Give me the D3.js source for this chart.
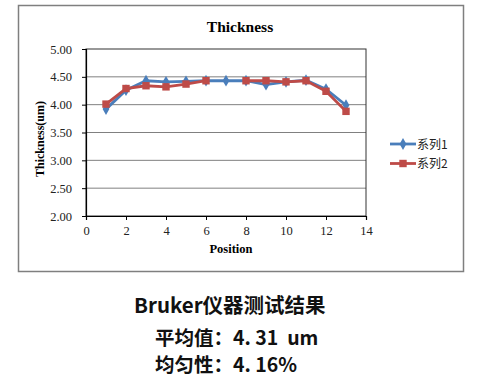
<!DOCTYPE html>
<html>
<head>
<meta charset="utf-8">
<script src="https://cdn.jsdelivr.net/npm/d3@7"></script>
<style>
  body { margin: 0; background: #fff; }
</style>
</head>
<body>
<div id="chart"></div>
<script>
// positions along the wafer
const positions = [1, 2, 3, 4, 5, 6, 7, 8, 9, 10, 11, 12, 13];
// thickness values (um)
const series1 = [3.92, 4.26, 4.43, 4.41, 4.42, 4.43, 4.43, 4.43, 4.36, 4.41, 4.44, 4.28, 3.99];
const series2 = [4.01, 4.29, 4.34, 4.32, 4.37, 4.43, null, 4.43, 4.43, 4.41, 4.43, 4.24, 3.88];
const seriesNames = ["系列1", "系列2"];
const xTicks = [0, 2, 4, 6, 8, 10, 12, 14];
const yTicks = [2.0, 2.5, 3.0, 3.5, 4.0, 4.5, 5.0];
const summaryLines = ["Bruker仪器测试结果", "平均值：4. 31  um", "均匀性：4. 16%"];

const width = 477, height = 386;
const plot = {left: 86, right: 366, top: 49, bottom: 216};
const colors = ["#4a7ebb", "#be4b48"];
const serif = "'Liberation Serif', 'Times New Roman', serif";

const svg = d3.create("svg")
  .attr("width", width)
  .attr("height", height);

// outer chart frame
svg.append("rect")
  .attr("x", 18.5).attr("y", 5.5)
  .attr("width", 445).attr("height", 266)
  .attr("fill", "#fff")
  .attr("stroke", "#7f7f7f")
  .attr("stroke-width", 1.5);

const x = d3.scaleLinear().domain([0, 14]).range([plot.left, plot.right]);
const y = d3.scaleLinear().domain([2, 5]).range([plot.bottom, plot.top]);

// gridlines
svg.append("g")
  .selectAll("line")
  .data(yTicks.slice(1, -1))
  .join("line")
  .attr("x1", plot.left).attr("x2", plot.right)
  .attr("y1", d => y(d)).attr("y2", d => y(d))
  .attr("stroke", "#808080")
  .attr("stroke-width", 1);

// plot frame
svg.append("rect")
  .attr("x", plot.left).attr("y", plot.top)
  .attr("width", plot.right - plot.left).attr("height", plot.bottom - plot.top)
  .attr("fill", "none")
  .attr("stroke", "#333")
  .attr("stroke-width", 1);

// axes
const xAxis = svg.append("g")
  .attr("transform", `translate(0, ${plot.bottom})`)
  .call(d3.axisBottom(x).tickValues(xTicks).tickSize(4).tickPadding(6).tickFormat(d3.format("d")));
const yAxis = svg.append("g")
  .attr("transform", `translate(${plot.left}, 0)`)
  .call(d3.axisLeft(y).tickValues(yTicks).tickSize(4).tickPadding(10).tickFormat(d3.format(".2f")));

[xAxis, yAxis].forEach(a => {
  a.attr("font-family", serif);
  a.select(".domain").attr("stroke", "#000").attr("stroke-width", 1.2);
  a.selectAll(".tick line").attr("stroke", "#000");
  a.selectAll("text")
    .attr("font-family", serif)
    .attr("font-size", 12.5)
    .attr("fill", "#222");
});

// titles
svg.append("text")
  .attr("x", 240).attr("y", 32)
  .attr("text-anchor", "middle")
  .attr("font-family", serif)
  .attr("font-weight", "bold")
  .attr("font-size", 15.5)
  .text("Thickness");

svg.append("text")
  .attr("x", 231).attr("y", 253)
  .attr("text-anchor", "middle")
  .attr("font-family", serif)
  .attr("font-weight", "bold")
  .attr("font-size", 12.5)
  .text("Position");

svg.append("text")
  .attr("transform", "translate(44, 139) rotate(-90)")
  .attr("text-anchor", "middle")
  .attr("font-family", serif)
  .attr("font-weight", "bold")
  .attr("font-size", 12)
  .text("Thickness(um)");

// lines and markers
const line = d3.line()
  .defined(d => d[1] != null)
  .x(d => x(d[0]))
  .y(d => y(d[1]));

const allSeries = [series1, series2].map(s => positions.map((p, i) => [p, s[i]]));
const diamond = d3.symbol().type(d3.symbolDiamond).size(40);
const square = d3.symbol().type(d3.symbolSquare).size(55);

allSeries.forEach((s, k) => {
  svg.append("path")
    .datum(s)
    .attr("d", line)
    .attr("fill", "none")
    .attr("stroke", colors[k])
    .attr("stroke-width", 2.8);

  svg.append("g")
    .selectAll("path")
    .data(s.filter(d => d[1] != null))
    .join("path")
    .attr("transform", d => `translate(${x(d[0])}, ${y(d[1])})`)
    .attr("d", k === 0 ? diamond : square)
    .attr("fill", colors[k]);
});

// legend
const legend = svg.append("g");
seriesNames.forEach((name, k) => {
  const ly = 144 + k * 19.5;
  legend.append("line")
    .attr("x1", 390).attr("x2", 416)
    .attr("y1", ly).attr("y2", ly)
    .attr("stroke", colors[k])
    .attr("stroke-width", 2.8);
  legend.append("path")
    .attr("transform", `translate(403, ${ly})`)
    .attr("d", k === 0 ? diamond : square)
    .attr("fill", colors[k]);
  legend.append("text")
    .attr("x", 417).attr("y", ly + 4.5)
    .attr("font-family", "'Noto Sans CJK SC', sans-serif")
    .attr("font-size", 12)
    .attr("fill", "#222")
    .text(name);
});

// summary text below the chart
const summary = [
  {x: 134, y: 313, size: 20.5},
  {x: 155, y: 345, size: 19.5},
  {x: 155, y: 372, size: 19.5}
];
summaryLines.forEach((t, i) => {
  svg.append("text")
    .attr("x", summary[i].x).attr("y", summary[i].y)
    .attr("font-family", "'Noto Sans CJK SC', sans-serif")
    .attr("font-weight", "bold")
    .attr("font-size", summary[i].size)
    .attr("fill", "#111")
    .style("white-space", "pre")
    .text(t);
});

document.getElementById("chart").appendChild(svg.node());
</script>
</body>
</html>
